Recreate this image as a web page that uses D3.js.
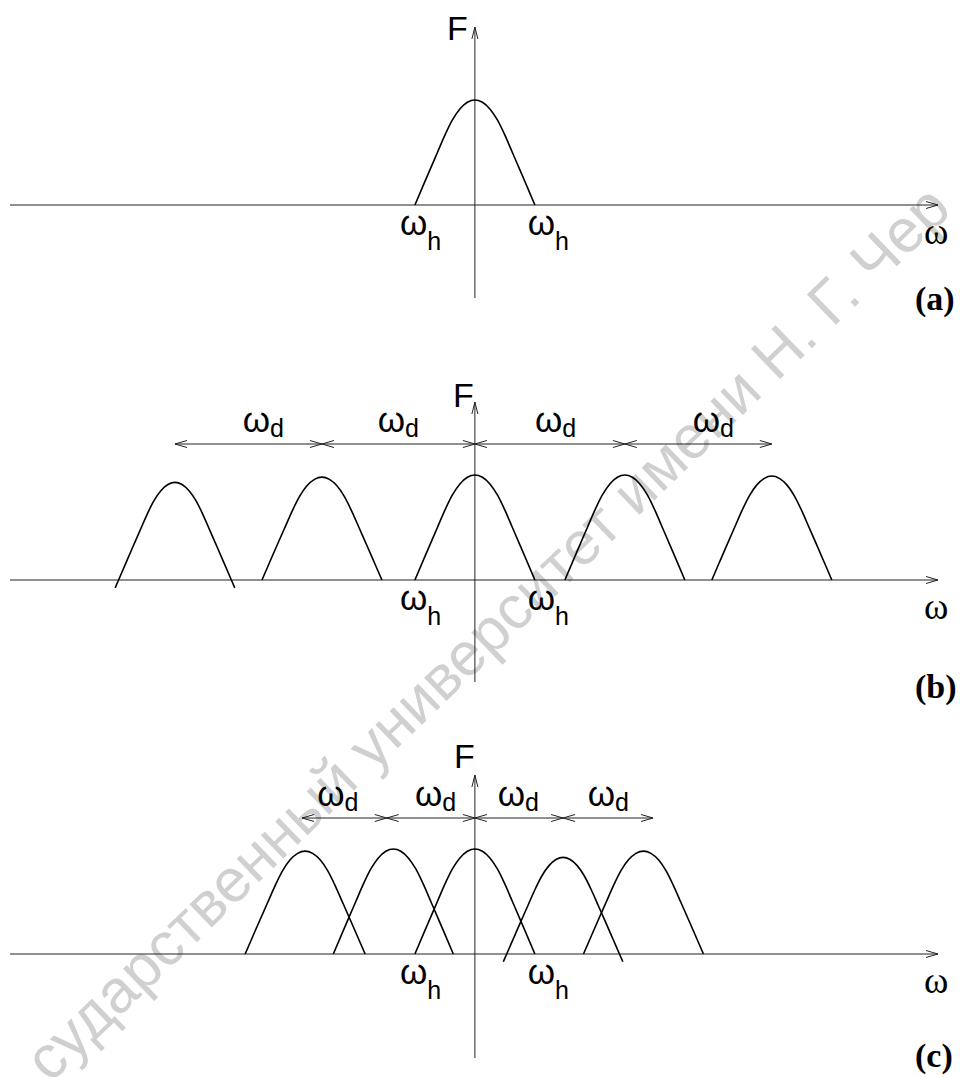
<!DOCTYPE html>
<html>
<head>
<meta charset="utf-8">
<script src="https://cdn.jsdelivr.net/npm/d3@7"></script>
<style>
  body { margin: 0; background: #fff; }
  svg { display: block; }
</style>
</head>
<body>
<svg width="960" height="1077"></svg>
<script>
// lobe profile: offsets in half-widths and relative level (straight sides, rounded top)
const profileT = [0, 0.125, 0.25, 0.375, 0.5, 0.625, 0.75, 0.875, 1, 1.06];
const profileLevel = [1, 0.978, 0.915, 0.81, 0.665, 0.50, 0.335, 0.168, 0, -0.08];

// panel (a)
const aCenters = [0];
const aPeaks = [1.0];
const aWidths = [1.0];
const aTails = [1.0];

// panel (b)
const bCenters = [-5.0, -2.55, 0, 2.5, 4.95];
const bPeaks = [0.93, 0.98, 1.0, 1.0, 0.99];
const bWidths = [0.94, 1, 1, 1, 1];
const bTails = [1.06, 1, 1, 1, 1];
const bSpans = [-5.0, -2.55, 0, 2.5, 4.95];

// panel (c)
const cCenters = [-2.83, -1.36, 0, 1.47, 2.81];
const cPeaks = [0.98, 1.0, 1.0, 0.92, 0.98];
const cWidths = [1, 1, 1, 0.94, 1];
const cTails = [1, 1, 1, 1.06, 1];
const cSpans = [-2.88, -1.47, 0, 1.47, 2.97];

const hLabels = [-1.25, 0.88];   // left edges of the two omega_h labels
const bDLabels = [-3.87, -1.62, 1.0, 3.63];
const cDLabels = [-2.63, -1.0, 0.38, 1.88];

const watermark = "сударственный университет имени Н. Г. Чер";

var svg = d3.select("svg");
const sans = "'Liberation Sans', Arial, sans-serif";
const serif = "'Liberation Serif', 'Times New Roman', serif";

const xscale = d3.scaleLinear().domain([-7.75, 7.72]).range([10, 938]);

// watermark underneath everything
svg.append('text')
    .attr('transform', 'translate(50,1084) rotate(-44)')
    .attr('font-family', sans)
    .attr('font-size', 61)
    .attr('fill', '#d0d0d0')
    .text(watermark);

const chevron = (g, x, y, dir, len, half) => {
    // open arrow head, dir: 'r','l','u'
    let p;
    if (dir == 'r') p = [[x - len, y - half], [x, y], [x - len, y + half]];
    if (dir == 'l') p = [[x + len, y - half], [x, y], [x + len, y + half]];
    if (dir == 'u') p = [[x - half, y + len], [x, y], [x + half, y + len]];
    g.append('path').attr('d', d3.line()(p))
        .attr('fill', 'none').attr('stroke', '#222').attr('stroke-width', 1);
};

const omega = (g, x, y, sub, drop) => {
    const t = g.append('text').attr('x', x).attr('y', y)
        .attr('font-family', sans).attr('font-size', 35).attr('fill', '#000');
    t.append('tspan').text('ω');
    t.append('tspan').attr('dy', drop).attr('font-size', 25).text(sub);
};

const render = p => {
    const g = svg.append('g');
    const yscale = d3.scaleLinear().domain([0, 1]).range([p.axisY, p.axisY - 105]);

    // horizontal axis
    g.append('line')
        .attr('x1', xscale.range()[0]).attr('x2', xscale.range()[1])
        .attr('y1', p.axisY).attr('y2', p.axisY)
        .attr('stroke', '#222').attr('stroke-width', 1);
    chevron(g, xscale.range()[1], p.axisY, 'r', 12, 3.5);

    // vertical axis
    g.append('line')
        .attr('x1', xscale(0)).attr('x2', xscale(0))
        .attr('y1', p.vTop).attr('y2', p.vBottom)
        .attr('stroke', '#222').attr('stroke-width', 1);
    chevron(g, xscale(0), p.vTop, 'u', 12, 3);

    // lobes
    const line = d3.line()
        .x(d => xscale(d[0]))
        .y(d => yscale(d[1]))
        .curve(d3.curveMonotoneX);
    p.centers.forEach((c, i) => {
        const pts = [];
        profileT.forEach((t, j) => {
            if (t <= p.tails[i]) pts.push([c - t * p.widths[i], profileLevel[j] * p.peaks[i]]);
        });
        pts.reverse();
        profileT.forEach((t, j) => {
            if (t > 0 && t <= p.tails[i]) pts.push([c + t * p.widths[i], profileLevel[j] * p.peaks[i]]);
        });
        g.append('path').attr('d', line(pts))
            .attr('fill', 'none').attr('stroke', '#000').attr('stroke-width', 1.6);
    });

    // omega_d spans
    if (p.spans) {
        const ya = p.axisY - 136;
        for (let i = 0; i < p.spans.length - 1; i++) {
            const x1 = xscale(p.spans[i]), x2 = xscale(p.spans[i + 1]);
            g.append('line').attr('x1', x1).attr('x2', x2).attr('y1', ya).attr('y2', ya)
                .attr('stroke', '#222').attr('stroke-width', 1);
            chevron(g, x1, ya, 'l', 12, 3.5);
            chevron(g, x2, ya, 'r', 12, 3.5);
        }
        p.dLabels.forEach(x => omega(g, xscale(x), p.axisY - 148, 'd', 5));
    }

    // labels
    hLabels.forEach(x => omega(g, xscale(x), p.axisY + 30, 'h', 15));
    g.append('text').attr('x', p.fx).attr('y', p.fy)
        .attr('font-family', sans).attr('font-size', 34).text('F');
    g.append('text').attr('x', 924).attr('y', p.axisY + 39)
        .attr('font-family', serif).attr('font-size', 37).text('ω');
    g.append('text').attr('x', 915).attr('y', p.tagY)
        .attr('font-family', serif).attr('font-weight', 'bold').attr('font-size', 34).text(p.tag);
};

render({axisY: 205, vTop: 27, vBottom: 298, fx: 447, fy: 40, tagY: 310, tag: '(a)',
    centers: aCenters, peaks: aPeaks, widths: aWidths, tails: aTails});
render({axisY: 580, vTop: 402, vBottom: 682, fx: 453, fy: 407, tagY: 698, tag: '(b)',
    centers: bCenters, peaks: bPeaks, widths: bWidths, tails: bTails, spans: bSpans, dLabels: bDLabels});
render({axisY: 954, vTop: 775, vBottom: 1058, fx: 454, fy: 768, tagY: 1067, tag: '(c)',
    centers: cCenters, peaks: cPeaks, widths: cWidths, tails: cTails, spans: cSpans, dLabels: cDLabels});
</script>
</body>
</html>
